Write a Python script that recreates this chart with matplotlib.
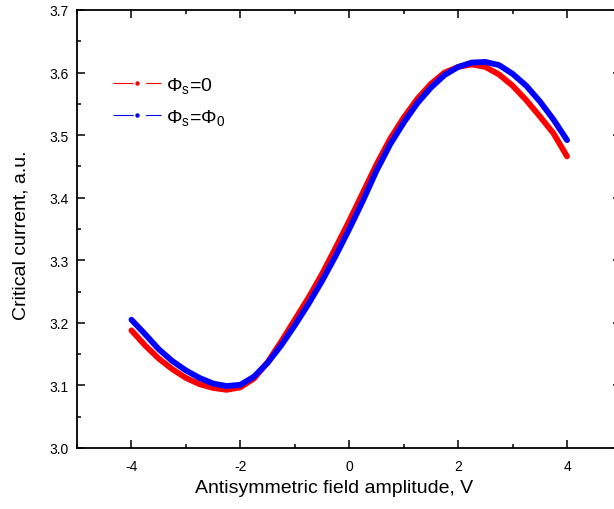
import matplotlib
matplotlib.use("Agg")
import matplotlib.pyplot as plt
from matplotlib.lines import Line2D
from matplotlib.ticker import MultipleLocator, FormatStrFormatter

plt.rcParams['font.family'] = ['Liberation Sans', 'DejaVu Sans']
plt.rcParams['mathtext.fontset'] = 'custom'
plt.rcParams['mathtext.rm'] = 'Liberation Sans'
plt.rcParams['mathtext.it'] = 'Liberation Sans:italic'
plt.rcParams['lines.scale_dashes'] = False
plt.rcParams['axes.unicode_minus'] = False

# Data
field = [-4.00, -3.75, -3.50, -3.25, -3.00, -2.75, -2.50, -2.25, -2.00, -1.75,
         -1.50, -1.25, -1.00, -0.75, -0.50, -0.25, 0.00, 0.25, 0.50, 0.75,
         1.00, 1.25, 1.50, 1.75, 2.00, 2.25, 2.50, 2.75, 3.00, 3.25,
         3.50, 3.75, 4.00]
ic_phi0 = [3.188, 3.164, 3.143, 3.126, 3.112, 3.102, 3.096, 3.093, 3.097, 3.111,
           3.137, 3.170, 3.205, 3.240, 3.278, 3.320, 3.363, 3.408, 3.453, 3.494,
           3.528, 3.558, 3.582, 3.600, 3.609, 3.613, 3.609, 3.597, 3.579, 3.556,
           3.530, 3.503, 3.466]
ic_phiF = [3.205, 3.182, 3.158, 3.139, 3.124, 3.112, 3.103, 3.099, 3.101, 3.114,
           3.136, 3.164, 3.196, 3.230, 3.267, 3.307, 3.350, 3.395, 3.443, 3.485,
           3.520, 3.551, 3.576, 3.596, 3.609, 3.616, 3.617, 3.612, 3.598, 3.579,
           3.554, 3.525, 3.492]
labels = [r'$\mathregular{\Phi_s}$=0', r'$\mathregular{\Phi_s}$=$\mathregular{\Phi_0}$']
colors = ['#ff0000', '#0000ff']

fig = plt.figure(figsize=(6.14, 5.10), dpi=100)
ax = fig.add_axes([77/614, 61/510, 544.5/614, 438/510])

for y, c in zip([ic_phi0, ic_phiF], colors):
    ax.plot(field, y, color=c, lw=4.2, solid_capstyle='round', solid_joinstyle='round')

ax.set_xlim(-5, 5)
ax.set_ylim(3.0, 3.7)
ax.xaxis.set_major_locator(MultipleLocator(2))
ax.xaxis.set_minor_locator(MultipleLocator(1))
ax.yaxis.set_major_locator(MultipleLocator(0.1))
ax.yaxis.set_minor_locator(MultipleLocator(0.05))
ax.yaxis.set_major_formatter(FormatStrFormatter('%.1f'))
ax.tick_params(which='both', direction='in', top=True, right=True, width=1.1, labelsize=10)
ax.tick_params(axis='x', pad=8)
ax.tick_params(axis='y', pad=6)
ax.tick_params(which='major', length=5.8)
ax.tick_params(which='minor', length=2.9)
for s in ax.spines.values():
    s.set_linewidth(1.3)

ax.set_xlabel('Antisymmetric field amplitude, V', fontsize=14)
ax.set_ylabel('Critical current, a.u.', fontsize=14)
ax.xaxis.set_label_coords(0.472, -0.071)
ax.yaxis.set_label_coords(-0.088, 0.489)

handles = [Line2D([], [], color=c, lw=0.8, dashes=(14.5, 9, 14.5, 9),
                  marker='o', markersize=3.2, markeredgewidth=0) for c in colors]
fig.legend(handles, labels, loc='upper left', bbox_to_anchor=(113/614, 1-76/510),
           bbox_transform=fig.transFigure, frameon=False, borderpad=0, borderaxespad=0,
           fontsize=14, handlelength=2.45, handletextpad=0.3, labelspacing=0.6, numpoints=1)

fig.savefig('out.png', dpi=100)
